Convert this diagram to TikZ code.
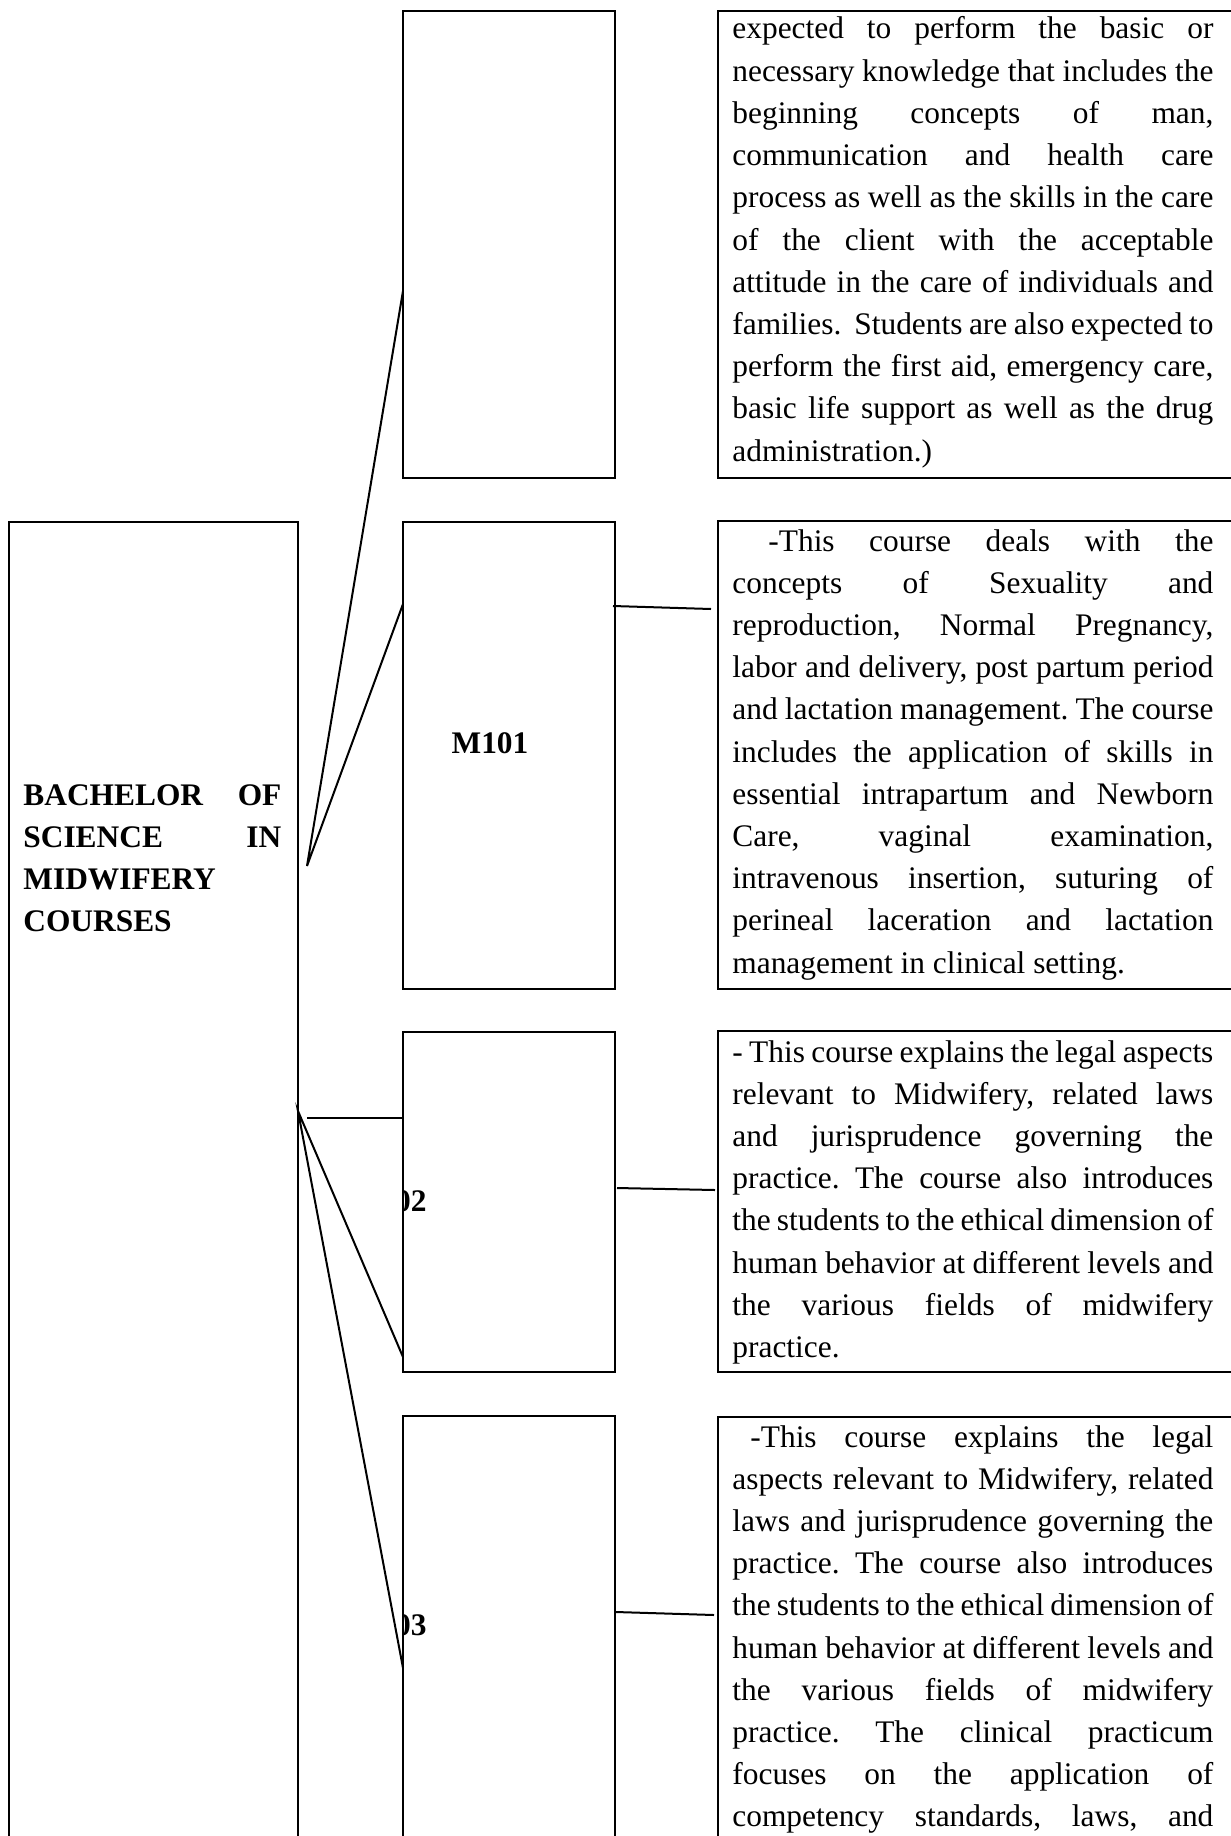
\documentclass[tikz,border=0pt]{standalone}
\usepackage{fontspec}
\setmainfont{Liberation Serif}
\frenchspacing

\newlength{\descw}
\setlength{\descw}{240.5pt}
\newcommand{\jline}[2][\descw]{\hbox to #1{#2}}
\newcommand{\lline}[1]{\hbox{#1}}

\begin{document}
\begin{tikzpicture}[x=0.5pt,y=-0.5pt,
  box/.style 2 args={draw,line width=0.8pt,inner sep=0pt,anchor=north west,
    minimum width=#1*0.5pt,minimum height=#2*0.5pt},
  link/.style={line width=1pt},
  desc/.style={inner sep=0pt,anchor=base west,font=\fontsize{15.7pt}{21.1pt}\selectfont},
  title/.style={desc,font=\fontsize{15.7pt}{21pt}\selectfont\bfseries},
  code/.style={inner sep=0pt,anchor=base,font=\fontsize{15.7pt}{21.1pt}\selectfont\bfseries}]
\useasboundingbox (0,0) rectangle (1231,1836);

% Programme
\node[box={289}{1400}] (prog) at (8,521) {};
\node[title] (progname) at (23,805) {\vtop{\jline[129pt]{BACHELOR OF}%
  \jline[129pt]{SCIENCE IN}\lline{MIDWIFERY}\lline{COURSES}}};

% Course boxes
\node[box={212}{467}] (c0) at (402,10) {};
\node[box={212}{467}] (c1) at (402,521) {};
\node[box={212}{340}] (c2) at (402,1031) {};
\node[box={212}{500}] (c3) at (402,1415) {};

\node[code] (m101) at (490,753) {M101};
\begin{scope}
  \clip (c2.north west) rectangle (c2.south east);
  \node[code,anchor=base east] (m102) at (427,1211) {M102};
\end{scope}
\begin{scope}
  \clip (c3.north west) rectangle (c3.south east);
  \node[code,anchor=base east] (m103) at (427,1635) {M103};
\end{scope}

% Description boxes
\node[box={600}{467}] (d0) at (717,10) {};
\node[box={600}{468}] (d1) at (717,520) {};
\node[box={600}{341}] (d2) at (717,1030) {};
\node[box={600}{500}] (d3) at (717,1416) {};

\node[desc] (t0) at (732,39) {\vtop{%
  \jline{expected to perform the basic or}%
  \jline{necessary knowledge that includes the}%
  \jline{beginning concepts of man,}%
  \jline{communication and health care}%
  \jline{process as well as the skills in the care}%
  \jline{of the client with the acceptable}%
  \jline{attitude in the care of individuals and}%
  \jline{families.\ \ Students are also expected to}%
  \jline{perform the first aid, emergency care,}%
  \jline{basic life support as well as the drug}%
  \lline{administration.)}}};

\node[desc] (t1) at (732,551) {\vtop{%
  \jline{\hskip18pt-This course deals with the}%
  \jline{concepts of Sexuality and}%
  \jline{reproduction, Normal Pregnancy,}%
  \jline{labor and delivery, post partum period}%
  \jline{and lactation management. The course}%
  \jline{includes the application of skills in}%
  \jline{essential intrapartum and Newborn}%
  \jline{Care, vaginal examination,}%
  \jline{intravenous insertion, suturing of}%
  \jline{perineal laceration and lactation}%
  \lline{management in clinical setting.}}};

\node[desc] (t2) at (732,1062) {\vtop{%
  \jline{- This course explains the legal aspects}%
  \jline{relevant to Midwifery, related laws}%
  \jline{and jurisprudence governing the}%
  \jline{practice. The course also introduces}%
  \jline{the students to the ethical dimension of}%
  \jline{human behavior at different levels and}%
  \jline{the various fields of midwifery}%
  \lline{practice.}}};

\node[desc] (t3) at (732,1447) {\vtop{%
  \jline{\hskip9pt-This course explains the legal}%
  \jline{aspects relevant to Midwifery, related}%
  \jline{laws and jurisprudence governing the}%
  \jline{practice. The course also introduces}%
  \jline{the students to the ethical dimension of}%
  \jline{human behavior at different levels and}%
  \jline{the various fields of midwifery}%
  \jline{practice. The clinical practicum}%
  \jline{focuses on the application of}%
  \jline{competency standards, laws, and}}};

% Connectors
\coordinate (fanA) at (307,866);
\coordinate (fanB) at (298,1111);
\coordinate (c0in) at (403,291);
\coordinate (c1in) at (403,604);
\coordinate (c2in) at (403,1357);
\coordinate (c3in) at (403,1668);
\coordinate (hA) at (307,1118);
\coordinate (hB) at (403,1118);
\draw[link] (c0in) -- (fanA) -- (c1in);
\draw[link] (c2in) -- (fanB) -- (c3in);
\draw[link] (hA) -- (hB);

\coordinate (c1out) at (613,606);
\coordinate (d1in) at (711,609);
\coordinate (c2out) at (617,1188);
\coordinate (d2in) at (715,1190);
\coordinate (c3out) at (616,1612);
\coordinate (d3in) at (714,1615);
\draw[link] (c1out) -- (d1in);
\draw[link] (c2out) -- (d2in);
\draw[link] (c3out) -- (d3in);

\end{tikzpicture}
\end{document}
